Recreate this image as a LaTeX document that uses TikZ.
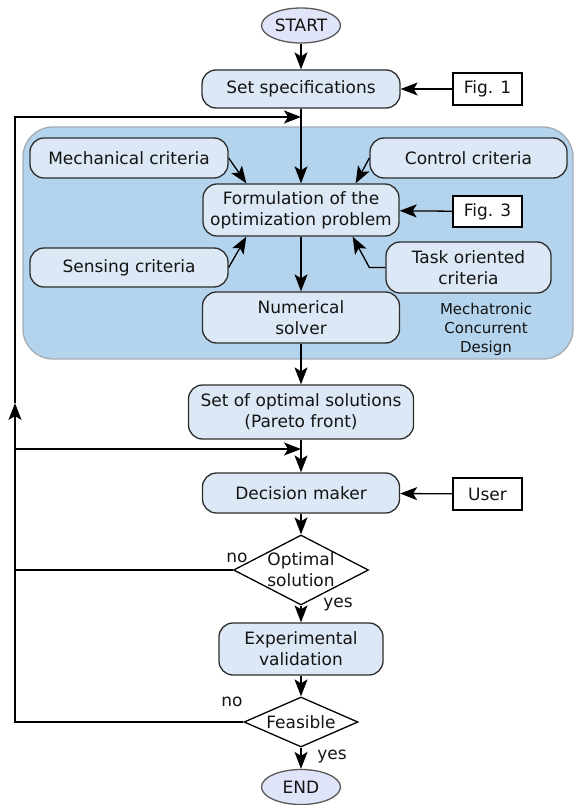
\documentclass[tikz,border=0pt]{standalone}
\usepackage{fontspec}
\setmainfont{DejaVu Sans}
\usepackage{xcolor}
\usetikzlibrary{shapes.geometric}
\usetikzlibrary{arrows.meta}
\definecolor{procfill}{RGB}{220,232,245}
\definecolor{termfill}{RGB}{224,228,248}
\definecolor{mcdfill}{RGB}{180,211,236}
\definecolor{mcdline}{RGB}{165,172,180}
\definecolor{boxline}{RGB}{45,45,45}
\tikzset{>={Stealth[length=17pt,width=13pt,inset=4pt]}}

\begin{document}
\begin{tikzpicture}[x=1pt,y=-1pt,
    font=\fontsize{17}{21}\selectfont, text=black!92, line width=1.3pt,
    proc/.style={draw=boxline,fill=procfill,rounded corners=14pt,align=center,inner sep=0pt},
    term/.style={ellipse,draw=black!65,fill=termfill,inner sep=0pt,minimum width=79pt,minimum height=35pt},
    ext/.style={draw,fill=white,inner sep=0pt,minimum width=69pt,minimum height=32pt},
    test/.style={diamond,draw,fill=white,inner sep=0pt}]
      \useasboundingbox (0,0) rectangle (574,805);
      \draw[draw=mcdline,fill=mcdfill,rounded corners=30pt] (23,127) rectangle (573,359);

      \node[term] (start) at (301,25.5) {START};
      \node[proc,minimum width=198pt,minimum height=38pt] (spec) at (301,89) {Set specifications};
      \node[ext] (fig1) at (487.5,89) {Fig. 1};
      \node[proc,minimum width=198pt,minimum height=40pt] (mech) at (129,158) {Mechanical criteria};
      \node[proc,minimum width=197pt,minimum height=40pt] (ctrl) at (468.5,158) {Control criteria};
      \node[proc,minimum width=196pt,minimum height=52pt] (form) at (301,210) {Formulation of the\\optimization problem};
      \node[ext,minimum height=31pt] (fig3) at (487.5,211.5) {Fig. 3};
      \node[proc,minimum width=198pt,minimum height=39pt] (sens) at (129,267.5) {Sensing criteria};
      \node[proc,minimum width=165pt,minimum height=51pt] (task) at (468.5,267.5) {Task oriented\\criteria};
      \node[proc,minimum width=197pt,minimum height=51pt] (num) at (301,317.5) {Numerical\\solver};
      \node[align=center,font=\fontsize{15}{19}\selectfont] (mcd) at (486,329) {Mechatronic\\Concurrent\\Design};
      \node[proc,minimum width=225pt,minimum height=54pt] (sol) at (301,412) {Set of optimal solutions\\(Pareto front)};
      \node[proc,minimum width=197pt,minimum height=40pt] (dec) at (301,493) {Decision maker};
      \node[ext] (user) at (487.5,494) {User};
      \node[test,minimum width=135pt,minimum height=70pt,
        label={[align=center]center:Optimal\\solution}] (opt) at (301,570) {};
      \node[proc,minimum width=164pt,minimum height=52pt] (exp) at (301,649) {Experimental\\validation};
      \node[test,minimum width=114pt,minimum height=50pt,label=center:Feasible] (feas) at (301,722) {};
      \node[term] (end) at (301,787) {END};

      \node (no1) at (237,558) {no};
      \node (yes1) at (338,605) {yes};
      \node (no2) at (232,702) {no};
      \node (yes2) at (332,756) {yes};

      \coordinate (fbtop) at (15,117);
      \coordinate (fbmid) at (15,403);
      \coordinate (fbsol) at (15,449);
      \coordinate (fbopt) at (15,570);
      \coordinate (fbbot) at (15,722);

      \path[->] (start) edge (spec);
      \path[->] (fig1) edge (spec);
      \path[->] (spec) edge (form);
      \path[->] (fig3) edge (form);
      \path[->] (mech.east) edge ([xshift=44pt]form.north west);
      \path[->] (ctrl.west) edge ([xshift=-44pt]form.north east);
      \path[->] (sens.east) edge ([xshift=44pt]form.south west);
      \draw[->] (task.west) -- ++(-16,0) -- ([xshift=-47pt]form.south east);
      \path[->] (form) edge (num);
      \path[->] (num) edge (sol);
      \path[->] (sol) edge (dec);
      \path[->] (user) edge (dec);
      \path[->] (dec) edge (opt);
      \path[->] (opt) edge (exp);
      \path[->] (exp) edge (feas);
      \path[->] (feas) edge (end);

      \draw[->] (feas.west) -- (fbbot) -- (fbmid);
      \draw[->] (fbmid) -- (fbtop) -- (spec.south |- fbtop);
      \draw (opt.west) -- (fbopt);
      \draw[->] (fbsol) -- (sol.south |- fbsol);
    \end{tikzpicture}
\end{document}
